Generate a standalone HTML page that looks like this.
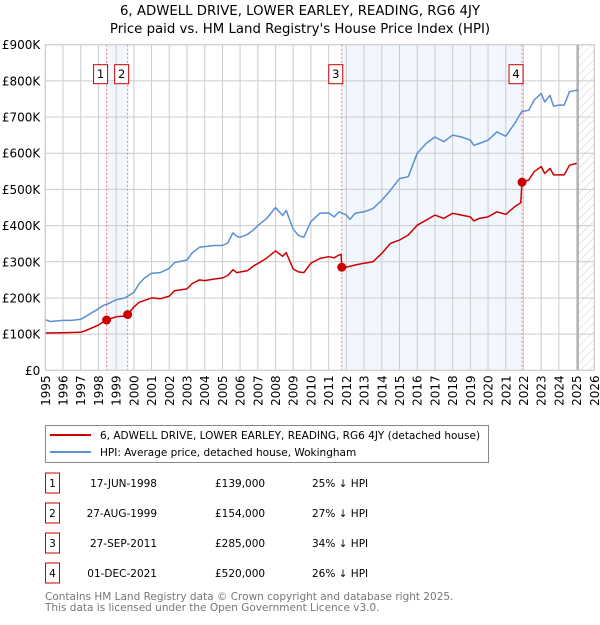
<!DOCTYPE html>
<html><head><meta charset="utf-8"><style>
body{margin:0;background:#fff;font-family:"Liberation Sans","DejaVu Sans",sans-serif;}
svg text{font-family:"DejaVu Sans","Liberation Sans",sans-serif;}
</style></head><body>
<svg id="c" width="600" height="620" xmlns="http://www.w3.org/2000/svg">
<defs><pattern id="hatch" width="6" height="6" patternUnits="userSpaceOnUse" patternTransform="rotate(45)"><line x1="0" y1="0" x2="0" y2="6" stroke="#ccc" stroke-width="1"/></pattern></defs>
<text x="300" y="15" text-anchor="middle" font-size="13.3">6, ADWELL DRIVE, LOWER EARLEY, READING, RG6 4JY</text>
<text x="300" y="33" text-anchor="middle" font-size="13.3">Price paid vs. HM Land Registry's House Price Index (HPI)</text>
<g id="plot"></g>
<g>
<rect x="45.5" y="425.5" width="443" height="37" fill="#fff" stroke="#888"/>
<line x1="50" y1="435" x2="91" y2="435" stroke="#cc0000" stroke-width="2"/>
<text x="100" y="439" font-size="10.5">6, ADWELL DRIVE, LOWER EARLEY, READING, RG6 4JY (detached house)</text>
<line x1="50" y1="452" x2="91" y2="452" stroke="#6090d0" stroke-width="2"/>
<text x="100" y="456" font-size="10.5">HPI: Average price, detached house, Wokingham</text>
</g>
<g id="table" font-size="10.5"></g>
<text x="45" y="600" font-size="10.5" fill="#777">Contains HM Land Registry data © Crown copyright and database right 2025.</text>
<text x="45" y="611" font-size="10.5" fill="#777">This data is licensed under the Open Government Licence v3.0.</text>
</svg>
<script>
const hpiYears=[1995,1995.3,1996,1996.5,1997,1997.5,1998,1998.3,1998.5,1999,1999.5,2000,2000.3,2000.6,2001,2001.5,2002,2002.3,2003,2003.3,2003.7,2004,2004.5,2005,2005.3,2005.6,2005.8,2006,2006.4,2006.8,2007,2007.5,2008,2008.4,2008.6,2009,2009.3,2009.6,2010,2010.5,2011,2011.3,2011.6,2012,2012.2,2012.5,2013,2013.5,2014,2014.5,2015,2015.5,2016,2016.5,2017,2017.5,2018,2018.5,2019,2019.2,2019.5,2020,2020.5,2021,2021.5,2021.9,2022.3,2022.6,2023,2023.2,2023.5,2023.7,2024,2024.3,2024.6,2025,2025.05];
const hpiValues=[140,135,138,138,141,155,170,180,183,195,200,215,240,255,268,270,282,298,305,325,340,342,345,345,352,380,370,368,375,390,400,420,450,428,442,390,373,368,411,434,435,424,438,429,417,434,438,447,470,498,530,535,600,627,645,632,650,645,636,622,627,636,659,647,682,715,719,747,765,742,760,730,733,733,770,774,776];
const priceYears=[1995,1996,1997,1997.3,1998,1998.3,1998.46,1999,1999.5,1999.65,2000,2000.3,2001,2001.5,2002,2002.3,2003,2003.3,2003.7,2004,2004.5,2005,2005.3,2005.6,2005.8,2006.4,2006.8,2007,2007.5,2008,2008.4,2008.6,2009,2009.3,2009.6,2010,2010.5,2011,2011.3,2011.6,2011.7,2011.74,2012,2012.5,2013,2013.5,2014,2014.5,2015,2015.5,2016,2016.5,2017,2017.5,2018,2018.5,2019,2019.2,2019.5,2020,2020.5,2021,2021.5,2021.85,2021.92,2022.3,2022.6,2023,2023.2,2023.5,2023.7,2024,2024.3,2024.6,2025];
const priceValues=[103,104,105,110,125,135,139,148,150,154,175,188,200,198,205,220,225,240,250,248,252,255,262,278,270,275,290,295,310,330,315,325,280,272,270,296,309,314,311,319,320,285,285,291,296,300,323,351,360,374,401,415,429,420,434,429,424,413,420,424,438,431,452,463,520,526,549,563,544,558,540,540,540,567,572];
const saleLabels=["1","2","3","4"];
const saleYears=[1998.46,1999.65,2011.74,2021.92];
const salePrices=[139,154,285,520];
const saleDates=["17-JUN-1998","27-AUG-1999","27-SEP-2011","01-DEC-2021"];
const salePriceText=["£139,000","£154,000","£285,000","£520,000"];
const saleHpiText=["25% ↓ HPI","27% ↓ HPI","34% ↓ HPI","26% ↓ HPI"];
const yTicks=[0,100,200,300,400,500,600,700,800,900];
const yTickLabels=["£0","£100K","£200K","£300K","£400K","£500K","£600K","£700K","£800K","£900K"];
const xTicks=[1995,1996,1997,1998,1999,2000,2001,2002,2003,2004,2005,2006,2007,2008,2009,2010,2011,2012,2013,2014,2015,2016,2017,2018,2019,2020,2021,2022,2023,2024,2025,2026];
const dataEnd=2025.08;

const NS="http://www.w3.org/2000/svg";
const L=45.3,R=594.3,T=44.7,B=370.3;
const X=y=>L+(y-1995)/(2026-1995)*(R-L);
const Y=v=>B-v/900*(B-T);
const plot=document.getElementById('plot');
function mk(tag,attrs,parent,text){const e=document.createElementNS(NS,tag);for(const k in attrs)e.setAttribute(k,attrs[k]);if(text!==undefined)e.textContent=text;(parent||plot).appendChild(e);return e;}

for(let i=0;i<saleYears.length;i+=2){
  const r=mk('rect',{x:X(saleYears[i]),y:T,width:X(saleYears[i+1])-X(saleYears[i]),height:B-T,fill:'#f2f6fd'});
  
  
}
const h=mk('rect',{x:X(dataEnd),y:T,width:R-X(dataEnd),height:B-T,fill:'url(#hatch)'});


xTicks.forEach((t,i)=>{
  const g=mk('line',{x1:X(t),x2:X(t),y1:T,y2:B,stroke:'#ccc','stroke-width':1});
  
  
  const tx=mk('text',{x:0,y:0,'font-size':12,'text-anchor':'end',transform:`translate(${X(t)+4.5},${B+5}) rotate(-90)`},plot,String(t));
  
  
});
yTicks.forEach((t,i)=>{
  const g=mk('line',{x1:L,x2:R,y1:Y(t),y2:Y(t),stroke:'#ccc','stroke-width':1});
  
  
  const tx=mk('text',{x:L-5,y:Y(t)+4.5,'font-size':12,'text-anchor':'end'},plot,yTickLabels[i]);
  
  
});
const endl=mk('line',{x1:X(dataEnd),x2:X(dataEnd),y1:T,y2:B,stroke:'#888','stroke-width':1.2});


saleYears.forEach((s,i)=>{
  const v=mk('line',{x1:X(s),x2:X(s),y1:T,y2:B,stroke:'#f08080','stroke-width':1,'stroke-dasharray':'2,2'});
  
  
  const bx=mk('rect',{x:X(s)-13,y:T+20,width:14,height:19,fill:'#fff',stroke:'#cc0000'});
  
  
  const t=mk('text',{x:X(s)-6,y:T+33.5,'font-size':11.5,'text-anchor':'middle'},plot,saleLabels[i]);
  
  
});
function path(xs,vs,color,name){
  const d=xs.map((x,i)=>(i?'L':'M')+X(x).toFixed(1)+','+Y(vs[i]).toFixed(1)).join('');
  const p=mk('path',{d:d,fill:'none',stroke:color,'stroke-width':1.5,'stroke-linejoin':'round'});
  
  
}
path(hpiYears,hpiValues,'#5b8fd3','hpi-line');
path(priceYears,priceValues,'#cc0000','price-paid-line');
saleYears.forEach((s,i)=>{
  const c=mk('circle',{cx:X(s),cy:Y(salePrices[i]),r:4.5,fill:'#cc0000'});
  
  
});
mk('rect',{x:L,y:T,width:R-L,height:B-T,fill:'none',stroke:'#ccc'});
const tb=document.getElementById('table');
saleLabels.forEach((lab,i)=>{
  const yc=483+i*30;
  const b=mk('rect',{x:45.5,y:yc-10,width:14,height:20,fill:'#fff',stroke:'#cc0000'},tb);
  
  
  const t1=mk('text',{x:52.5,y:yc+4,'text-anchor':'middle'},tb,lab);
  
  
  const t2=mk('text',{x:157,y:yc+4,'text-anchor':'end'},tb,saleDates[i]);
  
  
  const t3=mk('text',{x:215,y:yc+4},tb,salePriceText[i]);
  
  
  const t4=mk('text',{x:312,y:yc+4},tb,saleHpiText[i]);
  
  
});
</script>
</body></html>
